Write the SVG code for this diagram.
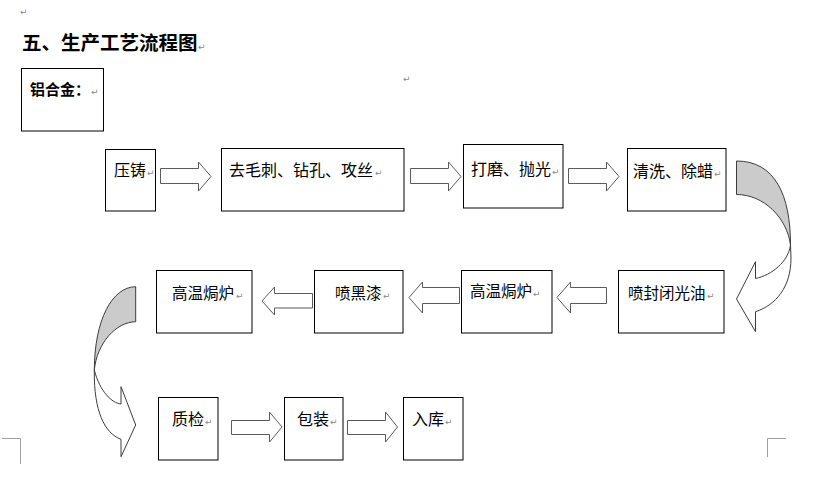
<svg xmlns="http://www.w3.org/2000/svg" width="813" height="484" viewBox="0 0 813 484">
<style>
.box{fill:#fff;stroke:#000;stroke-width:1}
.t{font-family:"Noto Sans CJK SC","Noto Sans",sans-serif;font-size:16px;fill:#000}
.s{font-size:15.5px}
.b{font-weight:bold}
.rm{font-family:"DejaVu Sans",sans-serif;font-size:9px;fill:#8a8a8a}
.ba{fill:#fff;stroke:#5a5a5a;stroke-width:1;stroke-linejoin:miter}
.cb{fill:#cbcbcb;stroke:#3c3c3c;stroke-width:1}
.cf{fill:#fff;stroke:#3c3c3c;stroke-width:1}
.cm{fill:none;stroke:#a0a0a0;stroke-width:1}
</style>
<rect width="813" height="484" fill="#fff"/>
<g id="page-marks">
<text class="rm" x="20" y="15">↵</text>
<text class="rm" x="403" y="82">↵</text>
<path class="cm" d="M2,438.5 H20.5 V464"/>
<path class="cm" d="M767.5,457 V438.5 H786"/>
</g>
<g id="title">
<text class="t b" x="22" y="50" style="font-size:19.5px">五、生产工艺流程图</text>
<text class="rm" x="198" y="50">↵</text>
</g>
<g id="node-alloy">
<rect class="box" x="21.5" y="68.5" width="82" height="62.5"/>
<text class="t b" x="30" y="95" style="font-size:15px">铝合金：</text>
<text class="rm" x="91" y="95">↵</text>
</g>
<g id="node-diecast">
<rect class="box" x="105.5" y="149.5" width="50" height="61.5"/>
<text class="t" x="114" y="176">压铸</text>
<text class="rm" x="147" y="176">↵</text>
</g>
<g id="node-deburr">
<rect class="box" x="221.5" y="148.5" width="182.5" height="62.5"/>
<text class="t" x="229" y="176">去毛刺、钻孔、攻丝</text>
<text class="rm" x="375" y="176">↵</text>
</g>
<g id="node-polish">
<rect class="box" x="463.5" y="144.5" width="99.5" height="63.5"/>
<text class="t" x="471" y="174.5">打磨、抛光</text>
<text class="rm" x="552" y="174.5">↵</text>
</g>
<g id="node-clean">
<rect class="box" x="627.5" y="148.5" width="98.5" height="62.5"/>
<text class="t" x="633" y="176.5">清洗、除蜡</text>
<text class="rm" x="714" y="176.5">↵</text>
</g>
<g id="node-sealoil">
<rect class="box" x="618.5" y="270.5" width="105.5" height="62.5"/>
<text class="t s" x="628" y="299">喷封闭光油</text>
<text class="rm" x="707" y="299">↵</text>
</g>
<g id="node-oven2">
<rect class="box" x="461.5" y="270.5" width="90.5" height="62.5"/>
<text class="t s" x="470" y="297">高温焗炉</text>
<text class="rm" x="533" y="297">↵</text>
</g>
<g id="node-blackpaint">
<rect class="box" x="314.5" y="270.5" width="88.5" height="62.5"/>
<text class="t s" x="335" y="298.5">喷黑漆</text>
<text class="rm" x="383" y="298.5">↵</text>
</g>
<g id="node-oven1">
<rect class="box" x="156.5" y="270.5" width="95.5" height="62.5"/>
<text class="t s" x="172" y="298.5">高温焗炉</text>
<text class="rm" x="236" y="298.5">↵</text>
</g>
<g id="node-qc">
<rect class="box" x="158.5" y="397.5" width="59.5" height="62.5"/>
<text class="t" x="172" y="425">质检</text>
<text class="rm" x="205" y="425">↵</text>
</g>
<g id="node-pack">
<rect class="box" x="284.5" y="397.5" width="58.5" height="62.5"/>
<text class="t" x="297" y="425">包装</text>
<text class="rm" x="330" y="425">↵</text>
</g>
<g id="node-store">
<rect class="box" x="403.5" y="397.5" width="59.5" height="62.5"/>
<text class="t" x="412" y="425">入库</text>
<text class="rm" x="445" y="425">↵</text>
</g>
<g id="connectors">
<path class="ba" d="M160.5,168.5 H198.5 V162 L211,176.5 L198.5,191 V183.5 H160.5 Z"/>
<path class="ba" d="M410.5,168.5 H448.5 V162 L461,176.5 L448.5,191 V183.5 H410.5 Z"/>
<path class="ba" d="M568.5,168.5 H606.5 V162 L619,176.5 L606.5,191 V183.5 H568.5 Z"/>
<path class="cb" d="M736.5,161 C775,161 790.5,195 790.5,245 C787,218 764,194.5 736.5,194.5 Z"/>
<path class="cf" d="M790.5,245 C788,262 772,275 755.5,278.5 L755.5,261.7 L736.5,299 L755.5,331.7 L755.5,311.7 C776,305 791,287 791,258 Z"/>
<path class="ba" d="M606.5,287.5 H570.5 V282 L557,297.5 L570.5,313 V303.5 H606.5 Z"/>
<path class="ba" d="M459.5,287.5 H422.5 V282 L409,297.5 L422.5,313 V303.5 H459.5 Z"/>
<path class="ba" d="M312.5,293.5 H274.5 V287 L262,301 L274.5,315 V308 H312.5 Z"/>
<path class="cb" d="M135.7,286.7 C112,287 94.5,320 94.3,370 C97,343 116,322 135.7,321.7 Z"/>
<path class="cf" d="M94.3,370 C100,392 112,403 121,404 L121,386.7 L135.7,425 L121,456.7 L121,439.3 C104,433 94,410 94.3,372 Z"/>
<path class="ba" d="M231.5,420.5 H269.5 V412 L282,427 L269.5,442 V434.5 H231.5 Z"/>
<path class="ba" d="M347.5,420.5 H385.5 V412 L397.5,427 L385.5,442 V434.5 H347.5 Z"/>
</g>
</svg>
